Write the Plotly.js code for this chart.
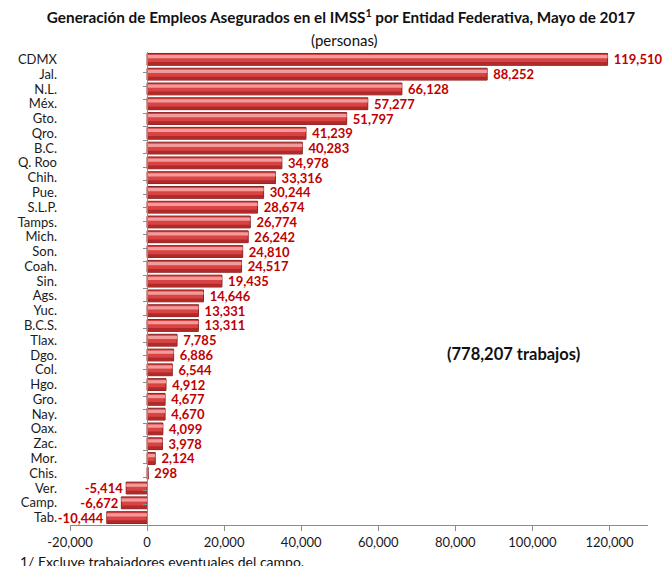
<!DOCTYPE html>
<html>
<head>
<meta charset="utf-8">
<script src="https://cdn.plot.ly/plotly-3.0.1.min.js"></script>
<style>html,body{margin:0;padding:0;background:#fff;}#chart{width:662px;height:566px;}</style>
</head>
<body>
<div id="chart"></div>
<script>
const estados = ["CDMX","Jal.","N.L.","Méx.","Gto.","Qro.","B.C.","Q. Roo","Chih.","Pue.","S.L.P.","Tamps.","Mich.","Son.","Coah.","Sin.","Ags.","Yuc.","B.C.S.","Tlax.","Dgo.","Col.","Hgo.","Gro.","Nay.","Oax.","Zac.","Mor.","Chis.","Ver.","Camp.","Tab."];
const empleos = [119510,88252,66128,57277,51797,41239,40283,34978,33316,30244,28674,26774,26242,24810,24517,19435,14646,13331,13311,7785,6886,6544,4912,4677,4670,4099,3978,2124,298,-5414,-6672,-10444];
const xTicks = [-20000,0,20000,40000,60000,80000,100000,120000];

const fmt = v => v.toLocaleString('en-US');
const total = empleos.reduce((a,b)=>a+b,0);
const FONT = 'Lato, "Open Sans", sans-serif';
const labels = empleos.map(v => v >= 0 ? '\u00a0' + fmt(v) : fmt(v));

const base = {
  type:'bar', orientation:'h', y:estados, x:empleos, width:0.8,
  marker:{color:'#d84343', line:{color:'#8a1f1f', width:1}},
  text: labels, textposition:'outside', cliponaxis:false, constraintext:'none',
  outsidetextfont:{family:FONT, size:13, color:'#c00000', weight:'bold'},
  textfont:{family:FONT, size:13, color:'#c00000', weight:'bold'},
  hoverinfo:'skip', showlegend:false
};
const shade = {
  type:'bar', orientation:'h', y:estados, x:empleos, width:0.2, offset:0.18,
  marker:{color:'#b02a2a', line:{width:0}}, hoverinfo:'skip', showlegend:false
};
const shine = {
  type:'bar', orientation:'h', y:estados, x:empleos, width:0.22, offset:-0.3,
  marker:{color:'#f39a9a', line:{width:0}}, hoverinfo:'skip', showlegend:false
};
const ticker = {
  type:'scatter', mode:'markers', y:estados, x:estados.map(()=>0), yaxis:'y2',
  marker:{opacity:0}, hoverinfo:'skip', showlegend:false
};

const layout = {
  width:662, height:566,
  margin:{l:70, r:14, t:52, b:41},
  paper_bgcolor:'#fff', plot_bgcolor:'#fff',
  font:{family:FONT, size:13, color:'#1a1a1a'},
  barmode:'overlay',
  title:{text:'<b>Generación de Empleos Asegurados en el IMSS<sup>1</sup> por Entidad Federativa, Mayo de 2017</b>',
    font:{family:FONT, size:15.3, color:'#111'}, x:0.515, xref:'container', xanchor:'center',
    y:1-18/566, yref:'container', yanchor:'middle'},
  xaxis:{range:[-20000,130000], tickvals:xTicks, ticktext:xTicks.map(fmt), showgrid:false, zeroline:false,
    showline:true, linecolor:'#8c8c8c', linewidth:1, ticks:'outside', ticklen:5, tickcolor:'#8c8c8c',
    tickfont:{family:FONT, size:13, color:'#1a1a1a'}, fixedrange:true},
  yaxis:{type:'category', categoryorder:'array', categoryarray:estados, autorange:'reversed',
    tickmode:'array', tickvals:estados, ticktext:estados,
    showgrid:false, zeroline:false, showline:false, ticks:'', ticklabelstandoff:12,
    tickfont:{family:FONT, size:13, color:'#1a1a1a'}},
  yaxis2:{type:'category', categoryorder:'array', categoryarray:estados, autorange:'reversed',
    tickmode:'array', tickvals:estados,
    overlaying:'y', anchor:'free', side:'left', position:20000/150000,
    showticklabels:false, showgrid:false, zeroline:false, showline:true, linecolor:'#8c8c8c',
    ticks:'outside', ticklen:4, tickcolor:'#8c8c8c', tickson:'boundaries'},
  annotations:[
    {text:'(personas)', xref:'paper', yref:'paper', x:(344-70)/578, y:(525-40)/473, xanchor:'center', yanchor:'middle',
     showarrow:false, font:{family:FONT, size:15, color:'#111'}},
    {text:'<b>(' + fmt(total) + ' trabajos)</b>', xref:'paper', yref:'paper', x:(513-70)/578, y:(525-354)/473,
     xanchor:'center', yanchor:'middle', showarrow:false, font:{family:FONT, size:16.5, color:'#111'}},
    {text:'1/ Excluye trabajadores eventuales del campo.', xref:'paper', yref:'paper', x:-52/578, y:(525-551)/473,
     xanchor:'left', yanchor:'top', showarrow:false, font:{family:FONT, size:14, color:'#111'}}
  ]
};

Plotly.newPlot('chart', [base, shade, shine, ticker], layout, {displayModeBar:false, staticPlot:true});
</script>
</body>
</html>
